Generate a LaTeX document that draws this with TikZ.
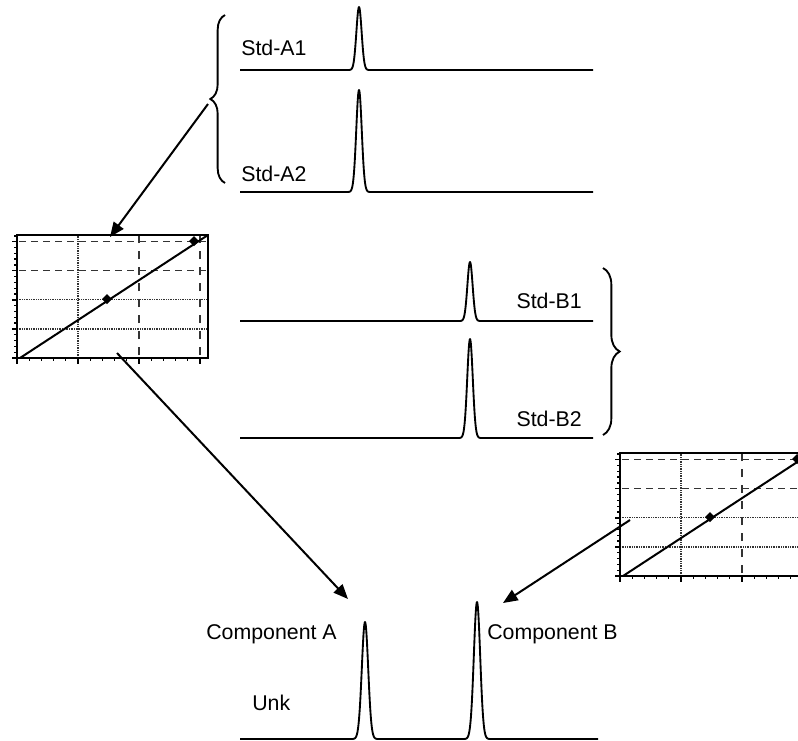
\documentclass[tikz,border=0pt]{standalone}
\usepackage{fontspec}
\setmainfont{Liberation Sans}
\usetikzlibrary{arrows.meta,decorations.pathreplacing}
\tikzset{
  trace/.style={line width=1.4pt,line join=round},
  lbl/.style={inner sep=0pt,font=\fontsize{16}{19}\selectfont},
  arr/.style={line width=1.5pt,-{Triangle[length=11pt,width=9pt]}},
  bracestyle/.style={line width=1.4pt,decorate,decoration={brace,amplitude=#1}},
  axisline/.style={line width=1.3pt},
  gdot/.style={line width=0.9pt,black!80,dash pattern=on 0.7pt off 0.6pt},
  gdash/.style={line width=0.9pt,black!80,dash pattern=on 5.5pt off 3.5pt},
  gvdash/.style={line width=0.9pt,black!80,dash pattern=on 6pt off 6pt},
  tickline/.style={line width=1pt},
  calplot/.pic={
    \foreach \yy in {1,2} \draw[gdot] (0,{-\yy*29.08}) -- (191,{-\yy*29.08});
    \foreach \yy in {3,4} \draw[gdash] (2,{-\yy*29.08}) -- (191,{-\yy*29.08});
    \draw[gdot] (61,0) -- (61,-123);
    \draw[gvdash] (122,-3) -- (122,-123);
    \draw[gvdash] (183,-3) -- (183,-123);
    \foreach \k in {0,...,21} {
      \pgfmathsetmacro{\tl}{ifthenelse(mod(\k,5)==0,5,3)}
      \draw[tickline] (0,{-\k*5.816}) -- (-\tl,{-\k*5.816});
    }
    \foreach \k in {0,...,15} {
      \pgfmathsetmacro{\tl}{ifthenelse(mod(\k,5)==0,6,3)}
      \draw[tickline] ({\k*12.2},0) -- ({\k*12.2},\tl);
    }
    \draw[axisline] (0,0) rectangle (191,-123);
    \draw[line width=1.5pt] (3,0) -- (191,-123);
    \fill (85,-59) -- (90,-64) -- (95,-59) -- (90,-54) -- cycle;
    \fill (172,-117) -- (177,-122) -- (182,-117) -- (177,-112) -- cycle;
  }
}
\begin{document}
\begin{tikzpicture}[x=0.75pt,y=-0.75pt]
\useasboundingbox (0,0) rectangle (798,740);
\fill[white] (0,0) rectangle (798,740);
\clip (0,0) rectangle (798,740);

% standard A traces
\draw[trace] (240,70) -- plot[domain=347:371,samples=61] (\x,{70-63*exp(-((\x-359)/3.7)^2)}) -- (593,70);
\draw[trace] (240,192) -- plot[domain=347:371,samples=61] (\x,{192-102*exp(-((\x-359)/3.9)^2)}) -- (593,192);
% standard B traces
\draw[trace] (240,321) -- plot[domain=458:482,samples=61] (\x,{321-59*exp(-((\x-470)/3.7)^2)}) -- (593,321);
\draw[trace] (240,438) -- plot[domain=458:482,samples=61] (\x,{438-99*exp(-((\x-470)/3.9)^2)}) -- (593,438);
% unknown trace
\draw[trace] (240,739) -- plot[domain=351:379,samples=71] (\x,{739-117*exp(-((\x-365)/4.5)^2)})
  -- plot[domain=463:491,samples=71] (\x,{739-137*exp(-((\x-477)/4.5)^2)}) -- (598,739);

% labels
\node[lbl,anchor=base west] (lA1) at (241,55) {Std-A1};
\node[lbl,anchor=base west] (lA2) at (241,181) {Std-A2};
\node[lbl,anchor=base east] (lB1) at (582,308) {Std-B1};
\node[lbl,anchor=base east] (lB2) at (582,426) {Std-B2};
\node[lbl,anchor=base east] (lCA) at (337,639) {Component A};
\node[lbl,anchor=base west] (lCB) at (487,639) {Component B};
\node[lbl,anchor=base west] (lU) at (252,710) {Unk};

% braces
\draw[bracestyle=11pt] (225,183) -- (225,15);
\draw[bracestyle=12.5pt] (603,268) -- (603,435);

% calibration plots
\pic at (17,358) {calplot};
\pic at (620,576) {calplot};

% connectors
\coordinate (braceA) at (208,104);
\coordinate (plotAin) at (110,237);
\coordinate (plotAout) at (117,353);
\coordinate (unkA) at (348,599);
\coordinate (plotBout) at (630,520);
\coordinate (unkB) at (503,603);
\draw[arr] (braceA) -- (plotAin);
\draw[arr] (plotAout) -- (unkA);
\draw[arr] (plotBout) -- (unkB);
\end{tikzpicture}
\end{document}
